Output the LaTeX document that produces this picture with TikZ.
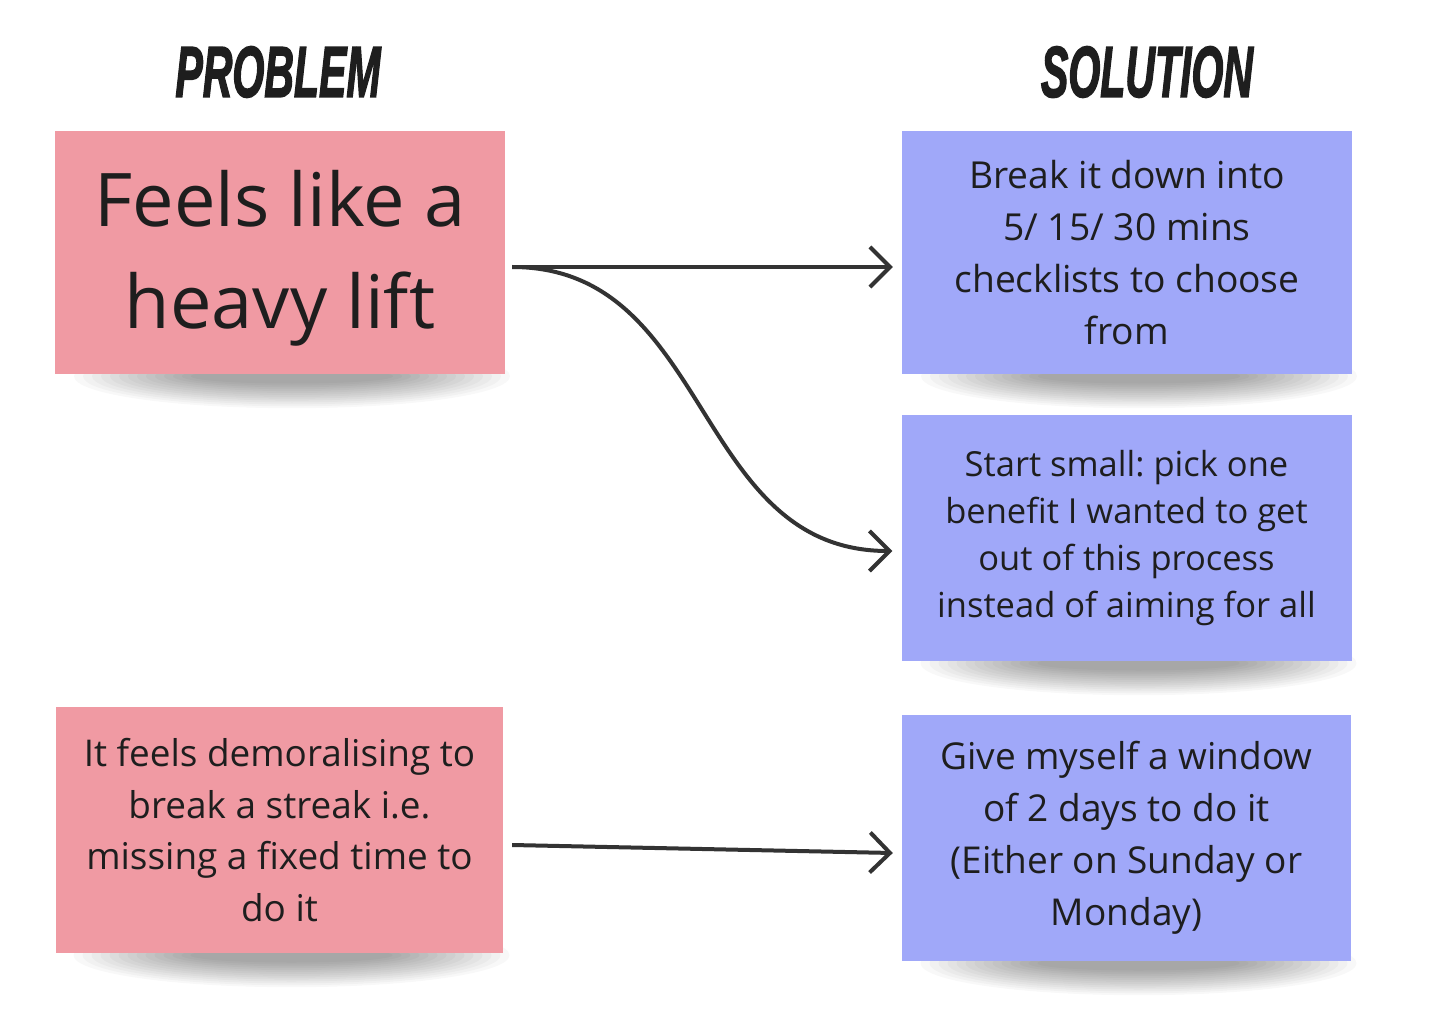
\documentclass[tikz,border=0pt]{standalone}
\usepackage{graphicx}
\usepackage{fontspec}
\setmainfont{Open Sans}
\newfontfamily\headfont{Liberation Sans}[BoldItalicFeatures={FakeBold=2.5}]
\usetikzlibrary{arrows.meta,calc,backgrounds}
\definecolor{pinkbox}{HTML}{F09AA3}
\definecolor{bluebox}{HTML}{A0A8F9}
\definecolor{ink}{HTML}{1E1E1E}
\definecolor{arrowc}{HTML}{333333}
\frenchspacing
\begin{document}
\begin{tikzpicture}[x=1pt,y=-1pt,
  note/.style={minimum width=450pt, minimum height=243pt, inner sep=0pt, align=center, text=ink},
  pnote/.style={note, fill=pinkbox},
  bnote/.style={note, fill=bluebox},
  conn/.style={draw=arrowc, line width=4pt, -{Straight Barb[length=20pt,width=40pt]}},
  head/.style={font=\headfont\bfseries\itshape\fontsize{72}{72}\selectfont, text=ink, inner sep=0pt}]
\useasboundingbox (0,0) rectangle (1432,1032);

\node[head] (hp) at (278,72) {\scalebox{0.57}[1]{PROBLEM}};
\node[head] (hs) at (1147,72) {\scalebox{0.57}[1]{SOLUTION}};

\node[pnote] (p1) at (280,252.5) {};
\node[font=\fontsize{74}{102}\selectfont, align=center, text=ink] (p1t) at (280,258) {Feels like a\\heavy lift};
\node[bnote, font=\fontsize{37.2}{52}\selectfont] (s1) at (1127,252.5) {Break it down into\\5/ 15/ 30 mins\\checklists to choose\\from};
\node[bnote, minimum height=246pt, font=\fontsize{34.5}{47}\selectfont] (s2) at (1126.5,538) {Start small: pick one\\benefit I wanted to get\\out of this process\\instead of aiming for all};
\node[pnote, minimum width=447pt, minimum height=246pt, font=\fontsize{36.9}{51.5}\selectfont] (p2) at (279.5,830) {It feels demoralising to\\break a streak i.e.\\missing a fixed time to\\do it};
\node[bnote, minimum width=449pt, minimum height=246pt, font=\fontsize{37}{52}\selectfont] (s3) at (1126.5,838) {Give myself a window\\of 2 days to do it\\(Either on Sunday or\\Monday)};

\begin{scope}[on background layer]
  \fill[white] (0,0) rectangle (1432,1032);
  \foreach \n in {p1,s1,s2,p2,s3}{
    \foreach \k in {0,...,13}{
      \fill[black,opacity=0.028] ($(\n.south)+(12,2)$) ellipse [x radius={218-\k*9}, y radius={32-\k*1.9}];
    }
  }
\end{scope}

\draw[conn] ($(p1.east)+(7,14.5)$) -- ($(s1.west)+(-9,14.5)$);
\draw[conn] ($(p1.east)+(7,14.5)$) .. controls +(200,0) and +(-200,0) .. ($(s2.west)+(-9,13)$);
\draw[conn] ($(p2.east)+(9,15)$) -- ($(s3.west)+(-9,15)$);
\end{tikzpicture}
\end{document}
